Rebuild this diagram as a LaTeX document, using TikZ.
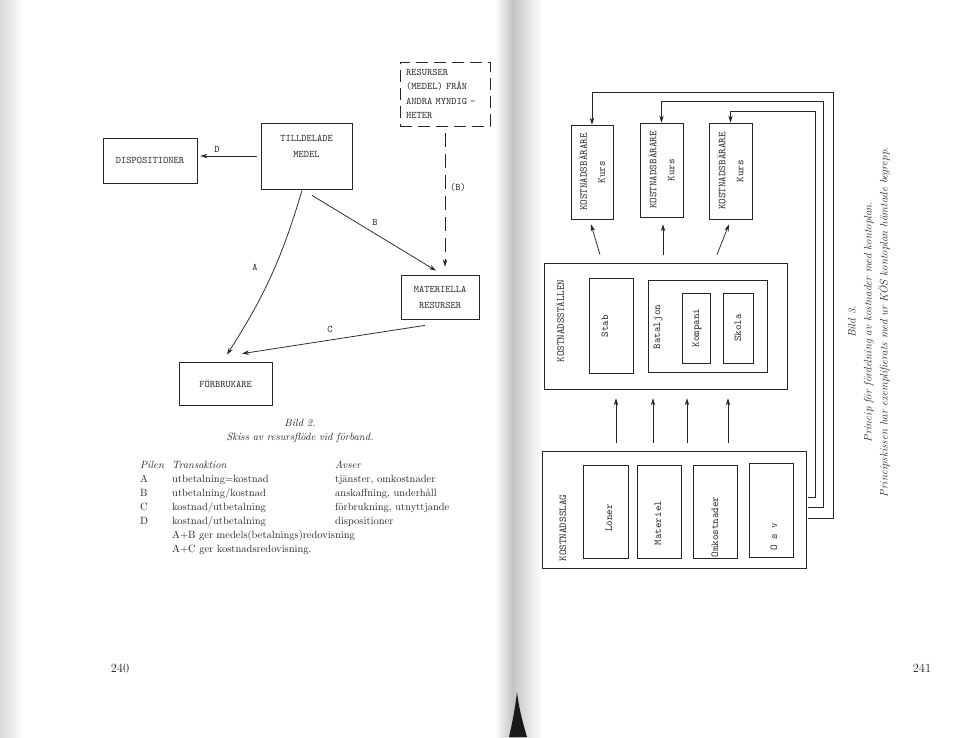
\documentclass[tikz,border=0pt]{standalone}
\usepackage{fontspec}
\usetikzlibrary{arrows.meta,calc}
\newcommand\twfont{\ttfamily\fontsize{10}{16}\selectfont}
\newcommand\twsmall{\ttfamily\fontsize{10}{14.3}\selectfont}
\newcommand\twrot{\ttfamily\fontsize{10.5}{18}\selectfont}
\newcommand\capfont{\itshape\fontsize{10.5}{14}\selectfont}
\newcommand\capbig{\itshape\fontsize{11}{16}\selectfont}
\newcommand\tabfont{\fontsize{10.5}{14}\selectfont}
\begin{document}
\begin{tikzpicture}[x=1pt,y=-1pt,
  ink/.style={draw=black!85,line width=0.75pt},
  bx/.style 2 args={ink,minimum width=#1pt,minimum height=#2pt,inner sep=0pt},
  arr/.style={ink,-{Stealth[length=7pt,width=4.5pt]}},
  lbl/.style={font=\twfont,text=black!85,inner sep=0pt},
  rot/.style={rotate=90,font=\twrot,text=black!85,align=center,inner sep=0pt}]
% page
\fill[white] (0,0) rectangle (959,737);
\useasboundingbox (0,0) rectangle (959,737);
\shade[left color=black!15,right color=white] (0,0) rectangle (24,737);
\shade[left color=white,right color=black!25] (495,0) rectangle (514,737);
\shade[left color=black!22,right color=white] (514,0) rectangle (542,737);
\fill[black!90] (509,737) .. controls (513,720) and (515,708) .. (517,692) .. controls (519,708) and (522,720) .. (527,737) -- cycle;

% ---------- left page: Bild 2 ----------
\node[bx={94}{45},font=\twfont,text=black!85] (disp) at (150,160.5) {DISPOSITIONER};
\node[bx={91}{66},font=\twfont,text=black!85,align=center] (till) at (306.5,156) {TILLDELADE\\MEDEL\\[4pt]};
\node[bx={90}{64},dash pattern=on 12pt off 6pt,font=\twsmall,text=black!85,align=left,text width=78pt] (res) at (445,94) {RESURSER\\(MEDEL) FRÅN\\ANDRA MYNDIG -\\HETER};
\node[bx={78}{44},font=\twfont,text=black!85,align=center] (mat) at (440,297) {MATERIELLA\\RESURSER};
\node[bx={93}{43},font=\twfont,text=black!85] (forb) at (225.5,383.5) {FÖRBRUKARE};

\draw[arr,shorten <=4pt,shorten >=3pt] (till.west) -- (till.west -| disp.east);
\node[lbl] (lD) at (217,149) {D};
\draw[arr] ($(till.south)+(-4.5,1)$) to[bend left=8] ($(forb.north)+(1.5,-7)$);
\node[lbl] (lA) at (255,267) {A};
\draw[arr] ($(till.south)+(5.5,6)$) -- ($(mat.north)+(-4,-4)$);
\node[lbl] (lB) at (375,222) {B};
\draw[arr] ($(mat.south)+(-15,6)$) -- ($(forb.north)+(16.5,-8)$);
\node[lbl] (lC) at (330,329) {C};
\draw[arr,dash pattern=on 14pt off 7pt] ($(res.south)+(0,7)$) -- ($(mat.north)+(5,-8)$);
\node[lbl] (lBB) at (458,187) {(B)};

\node[font=\capfont,align=center,text=black!85] (cap2) at (300,431) {Bild 2.\\Skiss av resursflöde vid förband.};
\node[anchor=north west,inner sep=0pt,font=\tabfont,text=black!85] (tab) at (140,458.5) {%
\begin{tabular}{@{}p{32pt}@{}p{163pt}@{}l@{}}
\textit{Pilen} & \textit{Transaktion} & \textit{Avser}\\
A & utbetalning=kostnad & tjänster, omkostnader\\
B & utbetalning/kostnad & anskaffning, underhåll\\
C & kostnad/utbetalning & förbrukning, utnyttjande\\
D & kostnad/utbetalning & dispositioner\\
 & \multicolumn{2}{@{}l@{}}{A+B ger medels(betalnings)redovisning}\\
 & \multicolumn{2}{@{}l@{}}{A+C ger kostnadsredovisning.}
\end{tabular}};
\node[font=\fontsize{12.5}{14}\selectfont,text=black!85] (p240) at (120,668) {240};
\node[font=\fontsize{12.5}{14}\selectfont,text=black!85] (p241) at (922,668) {241};

% ---------- right page: Bild 3 ----------
\node[bx={42}{94}] (kb1) at (592,172) {};
\node[bx={43}{94}] (kb2) at (661.5,170) {};
\node[bx={43}{96}] (kb3) at (730.5,171) {};
\node[rot] (kb1t) at (kb1) {KOSTNADSBÄRARE\\Kurs};
\node[rot] (kb2t) at (kb2) {KOSTNADSBÄRARE\\Kurs};
\node[rot] (kb3t) at (kb3) {KOSTNADSBÄRARE\\Kurs};

\node[bx={243}{126}] (ks) at (665.5,326) {};
\node[rot] (kst) at (560,321) {KOSTNADSSTÄLLEN};
\node[bx={44}{95}] (stab) at (611,325.5) {};
\node[rot] (stabt) at (605,326) {Stab};
\node[bx={119}{92}] (bat) at (707.5,326) {};
\node[rot] (batt) at (658,327) {Bataljon};
\node[bx={28}{70}] (komp) at (696,328) {};
\node[rot] (kompt) at (697,328) {Kompani};
\node[bx={30}{70}] (skola) at (738,328) {};
\node[rot] (skolat) at (738,328) {Skola};

\node[bx={264}{117}] (kl) at (674,509.5) {};
\node[rot] (klt) at (563,528) {KOSTNADSSLAG};
\node[bx={45}{93}] (lon) at (605.5,511.5) {};
\node[rot] (lont) at (609,518) {Löner};
\node[bx={44}{93}] (mtr) at (659,511.5) {};
\node[rot] (mtrt) at (658,523) {Materiel};
\node[bx={44}{93}] (omk) at (715,511.5) {};
\node[rot] (omkt) at (715,527) {Omkostnader};
\node[bx={44}{94}] (osv) at (771,510) {};
\node[rot] (osvt) at (774,537) {O s v};

% arrows cost types -> cost centres
\draw[arr] ($(kl.north)+(-58,-8)$) -- ($(ks.south)+(-49.5,9)$);
\draw[arr] ($(kl.north)+(-21,-8)$) -- ($(ks.south)+(-12.5,9)$);
\draw[arr] ($(kl.north)+(13,-8)$) -- ($(ks.south)+(21.5,9)$);
\draw[arr] ($(kl.north)+(54,-8)$) -- ($(ks.south)+(62.5,9)$);
% cost centres -> cost carriers
\draw[arr] ($(ks.north)+(-65.5,-8)$) -- ($(kb1.south)+(-1,5)$);
\draw[arr] ($(ks.north)+(-2.5,-8)$) -- ($(kb2.south)+(1.5,7)$);
\draw[arr] ($(ks.north)+(51.5,-8)$) -- ($(kb3.south)+(-1.5,5)$);
% direct lines cost types -> cost carriers
\draw[arr] ($(kl.east)+(2,-12)$) -| ($(kb3.north)+(84.5,-11)$) -| (kb3.north);
\draw[arr] ($(kl.east)+(2,-2)$) -| ($(kb2.north)+(161.5,-21)$) -| (kb2.north);
\draw[arr] ($(kl.east)+(2,9)$) -| ($(kb1.north)+(241,-32)$) -| (kb1.north);

\node[rotate=90,font=\capbig,align=center,text=black!85] (cap3) at (869,322) {Bild 3.\\Princip för fördelning av kostnader med kontoplan.\\Principskissen har exemplifierats med ur KÖS kontoplan hämtade begrepp.};
\end{tikzpicture}
\end{document}
